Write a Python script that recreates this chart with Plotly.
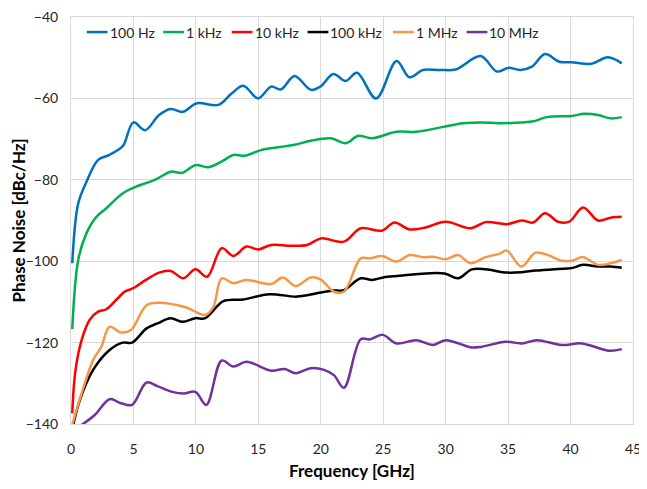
import plotly.graph_objects as go

# 100 Hz offset
hz100_x = [0.1, 0.58, 1.24, 2.17, 3.0, 3.75, 4.2, 5.0, 5.94, 7.05, 7.98, 8.95, 10.09, 11.8, 12.86,
           13.79, 14.98, 16.03, 16.8, 17.9, 19.2, 20.0, 21.0, 22.0, 22.9, 24.43, 26.07, 27.1, 28.2,
           29.5, 30.8, 32.8, 34.1, 35.0, 36.0, 36.9, 37.96, 39.1, 40.07, 41.66, 43.0, 44.1]
hz100_y = [-100.5, -85.8, -80.5, -75.1, -74.0, -72.7, -71.5, -65.9, -67.8, -64.1, -62.6, -63.3, -61.2,
           -61.6, -58.8, -56.9, -60.0, -57.1, -57.8, -54.5, -57.9, -57.0, -54.0, -55.7, -53.7, -60.0,
           -50.8, -54.8, -53.0, -53.0, -52.9, -49.6, -53.4, -52.5, -53.0, -52.2, -49.1, -51.0, -51.1,
           -51.5, -49.9, -51.4]

# 1 kHz offset
khz1_x = [0.1, 0.58, 1.24, 2.03, 2.83, 4.15, 5.2, 6.8, 7.98, 8.9, 9.96, 11.0, 12.07, 13.0, 13.9, 15.2,
          16.6, 17.9, 19.2, 20.8, 22.0, 23.0, 24.1, 26.07, 27.65, 29.8, 31.4, 32.9, 34.26, 36.9, 38.1,
          40.07, 41.1, 42.2, 43.2, 44.1]
khz1_y = [-116.7, -99.7, -93.1, -89.1, -87.0, -83.3, -81.7, -79.9, -78.0, -78.3, -76.4, -76.9, -75.5,
          -73.9, -74.1, -72.7, -72.0, -71.4, -70.4, -69.8, -71.0, -69.2, -69.8, -68.2, -68.2, -67.0,
          -66.1, -65.9, -66.1, -65.7, -64.6, -64.3, -63.8, -64.1, -64.9, -64.6]

# 10 kHz offset
khz10_x = [0.1, 0.35, 0.85, 1.5, 2.17, 2.83, 3.75, 4.28, 4.94, 6.0, 7.05, 7.98, 9.0, 9.96, 10.9, 12.07,
           13.0, 14.05, 14.98, 16.03, 17.6, 18.9, 20.0, 21.85, 23.2, 24.9, 25.9, 27.1, 28.4, 30.0, 32.0,
           33.2, 34.9, 36.1, 37.0, 37.96, 39.0, 39.9, 41.0, 42.2, 43.2, 44.1]
khz10_y = [-137.4, -127.0, -119.4, -114.4, -112.4, -111.8, -109.1, -107.5, -106.7, -104.6, -102.8,
           -102.4, -104.2, -102.0, -103.8, -96.8, -98.7, -96.4, -97.1, -96.0, -96.2, -96.0, -94.4,
           -95.2, -91.9, -92.5, -90.5, -92.2, -91.7, -90.3, -91.9, -90.4, -90.9, -90.0, -90.5, -88.2,
           -90.3, -90.3, -86.8, -90.0, -89.3, -89.1]

# 100 kHz offset
khz100_x = [0.18, 0.71, 1.77, 3.09, 4.15, 4.89, 6.05, 6.92, 7.98, 8.95, 9.96, 10.75, 12.2, 13.8, 15.9,
            18.1, 20.0, 21.05, 21.85, 23.2, 24.1, 25.0, 26.3, 28.4, 29.9, 31.0, 32.1, 33.2, 34.9, 36.1,
            37.2, 39.0, 40.07, 41.0, 42.2, 43.2, 44.1]
khz100_y = [-140.2, -134.1, -126.7, -121.8, -120.0, -120.0, -116.5, -115.3, -114.0, -114.9, -114.0,
            -114.0, -109.8, -109.4, -108.1, -108.7, -107.7, -107.2, -107.1, -104.2, -104.6, -104.0,
            -103.6, -103.0, -103.0, -104.2, -102.0, -102.0, -102.8, -102.7, -102.3, -101.9, -101.7,
            -100.9, -101.3, -101.3, -101.6]

# 1 MHz offset
mhz1_x = [0.1, 0.85, 1.77, 2.43, 3.09, 4.0, 4.8, 6.05, 7.05, 9.17, 10.75, 11.4, 12.07, 13.0, 14.05,
          16.03, 16.96, 18.0, 19.2, 20.0, 21.05, 21.85, 23.2, 23.95, 24.9, 26.07, 27.1, 28.2, 29.0,
          30.0, 31.0, 32.0, 33.2, 34.26, 34.9, 36.05, 37.2, 38.2, 39.3, 40.07, 41.0, 42.2, 43.2, 44.1]
mhz1_y = [-140.2, -132.5, -124.3, -121.0, -116.1, -117.5, -116.9, -110.8, -110.2, -111.3, -113.2,
          -111.2, -104.2, -105.4, -104.6, -105.6, -104.0, -106.1, -104.0, -104.5, -107.5, -107.5,
          -99.3, -99.3, -98.7, -100.1, -98.5, -99.0, -98.9, -99.5, -98.5, -100.5, -99.0, -98.2, -97.4,
          -101.3, -97.9, -98.5, -99.9, -99.9, -99.0, -100.9, -100.5, -99.7]

# 10 MHz offset
mhz10_x = [0.77, 1.9, 3.09, 4.0, 4.89, 6.05, 6.92, 8.1, 9.03, 9.96, 10.83, 12.07, 13.0, 14.05, 16.03,
           17.1, 18.0, 19.2, 20.26, 21.05, 21.85, 23.2, 23.95, 24.96, 26.07, 27.65, 29.0, 30.0, 32.1,
           32.9, 34.8, 36.1, 37.3, 39.3, 40.9, 43.1, 44.1]
mhz10_y = [-140.4, -137.8, -133.9, -134.9, -135.3, -129.8, -130.7, -132.1, -132.5, -132.1, -135.3,
           -124.4, -125.9, -124.7, -126.9, -126.5, -127.5, -126.3, -126.7, -128.0, -131.1, -119.2,
           -119.2, -118.1, -120.2, -119.4, -120.6, -119.4, -121.2, -121.0, -119.8, -120.2, -119.4,
           -120.6, -120.2, -122.0, -121.6]

series = [
    ("100 Hz", hz100_x, hz100_y, "#0070C0"),
    ("1 kHz", khz1_x, khz1_y, "#00B050"),
    ("10 kHz", khz10_x, khz10_y, "#FF0000"),
    ("100 kHz", khz100_x, khz100_y, "#000000"),
    ("1 MHz", mhz1_x, mhz1_y, "#F79646"),
    ("10 MHz", mhz10_x, mhz10_y, "#7030A0"),
]

FONT = "Lato"
TEXT = "#262626"

# Excel-style compact legend: start of each entry (fraction of plot width)
legend_x0 = [0.028, 0.164, 0.286, 0.421, 0.573, 0.704]
legend_line = 0.037   # length of legend line sample
legend_y = 0.963

fig = go.Figure()
for (name, xs, ys, color), lx in zip(series, legend_x0):
    fig.add_trace(
        go.Scatter(
            x=xs,
            y=ys,
            mode="lines",
            name=name,
            line=dict(color=color, width=2.5, shape="spline", smoothing=1.0),
        )
    )
    fig.add_shape(
        type="line", xref="paper", yref="paper",
        x0=lx, x1=lx + legend_line, y0=legend_y, y1=legend_y,
        line=dict(color=color, width=2.5),
    )
    fig.add_annotation(
        xref="paper", yref="paper", x=lx + legend_line, y=legend_y,
        text=name, showarrow=False, xanchor="left", yanchor="middle",
        font=dict(family=FONT, size=14, color=TEXT),
    )

# white legend band hiding the grid at the top of the plot area
fig.add_shape(
    type="rect", xref="paper", yref="paper", x0=0, x1=1, y0=0.929, y1=1,
    fillcolor="white", line=dict(width=0), layer="between",
)

# page body has an 8px margin, so the figure is sized to fit inside the window
fig.update_layout(
    width=631,
    height=473,
    margin=dict(l=63, r=6, t=9, b=57),
    paper_bgcolor="white",
    plot_bgcolor="white",
    font=dict(family=FONT, size=14, color=TEXT),
    showlegend=False,
)
fig.update_xaxes(
    range=[0, 45],
    dtick=5,
    tick0=0,
    automargin=False,
    ticklabeloverflow="allow",
    showgrid=True,
    gridcolor="#D9D9D9",
    gridwidth=1,
    zeroline=False,
    ticks="",
    ticklabelstandoff=12,
    title=dict(text="<b>Frequency [GHz]</b>", font=dict(family=FONT, size=17, color="#000000"),
               standoff=10),
    tickfont=dict(family=FONT, size=14, color=TEXT),
    mirror=True,
    showline=True,
    linecolor="#D9D9D9",
    linewidth=1,
)
fig.update_yaxes(
    range=[-140, -40],
    dtick=20,
    automargin=False,
    ticklabeloverflow="allow",
    showgrid=True,
    gridcolor="#D9D9D9",
    gridwidth=1,
    zeroline=False,
    ticks="",
    ticklabelstandoff=9,
    title=dict(text="<b>Phase Noise [dBc/Hz]</b>", font=dict(family=FONT, size=17, color="#000000"),
               standoff=0),
    tickfont=dict(family=FONT, size=14, color=TEXT),
    mirror=True,
    showline=True,
    linecolor="#D9D9D9",
    linewidth=1,
)

fig.write_html("out.html")
